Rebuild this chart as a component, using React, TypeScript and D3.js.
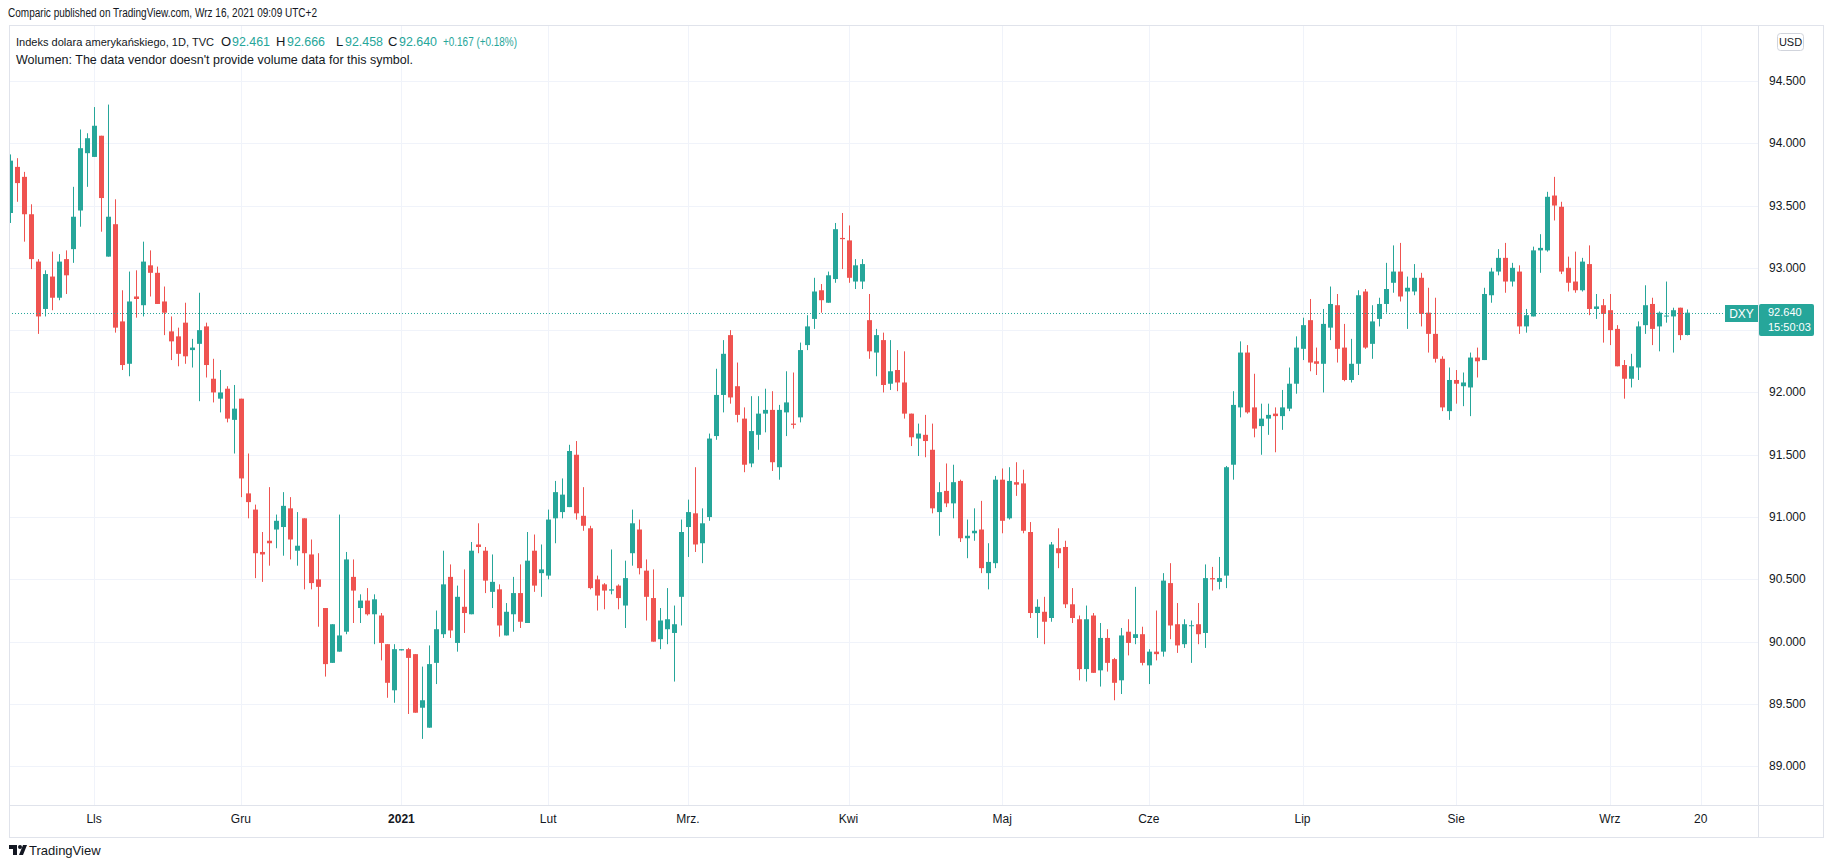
import React from 'react';
import * as d3 from 'd3';

// DXY daily candles, Oct 15 2020 .. Sep 16 2021 (one entry per weekday)
const opens = [
  93.44, 93.81, 93.73, 93.43, 93.05, 92.67, 92.93, 92.76, 93.07, 93.15,
  93.46, 93.92, 93.89, 94.06, 93.09, 93.35, 92.57, 92.23, 92.77, 92.7,
  93.02, 92.96, 92.73, 92.49, 92.45, 92.56, 92.34, 92.39, 92.53, 92.11,
  91.95, 92.03, 91.78, 91.95, 91.19, 91.06, 90.72, 90.81, 90.9, 90.92,
  91.07, 90.73, 90.99, 90.7, 90.5, 90.27, 89.83, 89.92, 90.08, 90.52,
  90.27, 90.33, 90.22, 90.21, 89.98, 89.61, 89.93, 89.94, 89.9, 89.47,
  89.31, 89.83, 90.06, 90.52, 89.99, 90.28, 90.22, 90.78, 90.73, 90.4,
  90.42, 90.05, 90.22, 90.39, 90.15, 90.73, 90.55, 90.53, 90.99, 91.04,
  91.08, 91.5, 91.01, 90.91, 90.5, 90.46, 90.41, 90.45, 90.29, 90.71,
  90.9, 90.57, 90.35, 90.02, 90.1, 90.07, 90.36, 90.92, 91.03, 90.79,
  91.0, 91.65, 91.98, 92.46, 92.05, 91.79, 91.43, 91.66, 91.83, 91.86,
  91.4, 91.84, 91.75, 91.8, 92.38, 92.59, 92.82, 92.72, 92.91, 93.24,
  93.22, 92.89, 92.89, 92.58, 92.32, 92.42, 92.07, 92.18, 92.08, 91.83,
  91.63, 91.66, 91.54, 91.04, 91.21, 91.11, 91.29, 90.83, 90.87, 90.9,
  90.55, 90.63, 91.3, 90.99, 91.28, 91.27, 90.88, 90.23, 90.24, 90.19,
  90.75, 90.76, 90.3, 90.18, 89.78, 90.21, 89.77, 90.03, 89.86, 89.69,
  90.08, 90.03, 90.06, 89.81, 89.92, 89.92, 90.47, 90.14, 89.98, 90.127,
  90.14, 90.07, 90.51, 90.48, 90.53, 91.42, 91.88, 92.32, 91.88, 91.73,
  91.79, 91.83, 91.81, 91.87, 92.07, 92.35, 92.58, 92.25, 92.23, 92.52,
  92.7, 92.36, 92.1, 92.23, 92.81, 92.39, 92.59, 92.71, 92.88, 92.97,
  92.81, 92.81, 92.92, 92.64, 92.47, 92.27, 91.85, 92.1, 92.05, 92.04,
  92.28, 92.26, 92.78, 92.97, 93.08, 92.89, 92.97, 92.53, 92.61, 93.14,
  93.14, 93.58, 93.49, 93.0, 92.89, 92.82, 93.03, 92.67, 92.7, 92.66,
  92.51, 92.22, 92.11, 92.2, 92.54, 92.71, 92.53, 92.612, 92.61, 92.68,
  92.461,
];
const highs = [
  93.91, 93.88, 93.77, 93.51, 93.07, 92.98, 93.13, 93.11, 93.14, 93.65,
  94.11, 94.08, 94.29, 94.06, 94.31, 93.55, 92.82, 92.97, 92.98, 93.21,
  93.14, 93.01, 92.85, 92.61, 92.52, 92.72, 92.43, 92.8, 92.56, 92.27,
  92.18, 92.05, 92.06, 91.95, 91.51, 91.1, 90.88, 91.24, 91.02, 91.2,
  91.16, 91.04, 90.99, 90.82, 90.71, 90.27, 90.14, 91.02, 90.72, 90.66,
  90.38, 90.43, 90.38, 90.23, 89.98, 89.98, 89.94, 89.95, 89.9, 89.8,
  89.97, 90.25, 90.73, 90.62, 90.45, 90.58, 90.8, 90.95, 90.76, 90.7,
  90.46, 90.31, 90.52, 90.62, 90.88, 90.86, 90.78, 91.06, 91.29, 91.31,
  91.58, 91.61, 91.24, 90.93, 90.53, 90.47, 90.74, 90.46, 90.65, 91.06,
  90.98, 90.66, 90.58, 90.27, 90.43, 90.29, 90.98, 91.14, 91.4, 91.07,
  91.67, 92.19, 92.42, 92.5, 92.24, 91.88, 91.97, 91.97, 92.03, 92.01,
  91.9, 92.17, 92.16, 92.4, 92.62, 92.92, 92.87, 92.97, 93.36, 93.44,
  93.34, 93.07, 93.07, 92.79, 92.51, 92.48, 92.42, 92.34, 92.33, 91.83,
  91.75, 91.82, 91.75, 91.28, 91.43, 91.42, 91.3, 90.98, 91.07, 91.13,
  90.79, 91.33, 91.39, 91.4, 91.44, 91.38, 90.96, 90.34, 90.36, 90.8,
  90.91, 90.81, 90.43, 90.21, 90.29, 90.23, 90.15, 90.1, 89.87, 90.11,
  90.18, 90.44, 90.12, 89.94, 90.25, 90.55, 90.63, 90.31, 90.18, 90.17,
  90.31, 90.62, 90.6, 90.68, 91.41, 92.01, 92.41, 92.38, 92.15, 91.91,
  91.91, 91.88, 92.02, 92.2, 92.45, 92.6, 92.75, 92.36, 92.67, 92.85,
  92.79, 92.55, 92.43, 92.82, 92.83, 92.7, 92.76, 93.04, 93.18, 93.2,
  92.93, 93.03, 92.96, 92.84, 92.76, 92.29, 92.2, 92.18, 92.16, 92.32,
  92.36, 92.84, 93.0, 93.15, 93.2, 93.04, 93.02, 92.67, 93.17, 93.27,
  93.61, 93.73, 93.53, 93.09, 93.13, 93.08, 93.18, 92.79, 92.75, 92.79,
  92.54, 92.26, 92.31, 92.57, 92.86, 92.76, 92.65, 92.89, 92.68, 92.68,
  92.666,
];
const lows = [
  93.36, 93.53, 93.21, 92.99, 92.47, 92.61, 92.66, 92.74, 92.79, 93.04,
  93.33, 93.65, 93.89, 93.29, 93.09, 92.48, 92.18, 92.13, 92.6, 92.61,
  92.77, 92.71, 92.46, 92.26, 92.21, 92.23, 92.2, 91.93, 92.12, 91.92,
  91.84, 91.76, 91.51, 91.16, 90.99, 90.51, 90.48, 90.61, 90.75, 90.69,
  90.66, 90.61, 90.42, 90.42, 90.12, 89.72, 89.83, 89.92, 90.06, 90.15,
  90.15, 90.21, 89.98, 89.85, 89.55, 89.51, 89.93, 89.42, 89.43, 89.22,
  89.31, 89.66, 90.03, 90.03, 89.92, 90.07, 90.22, 90.71, 90.39, 90.27,
  90.04, 90.05, 90.08, 90.11, 90.15, 90.4, 90.36, 90.5, 90.79, 90.99,
  91.08, 90.98, 90.89, 90.42, 90.25, 90.26, 90.38, 90.26, 90.11, 90.61,
  90.54, 90.17, 90.0, 89.94, 89.98, 89.68, 90.13, 90.68, 90.72, 90.63,
  90.97, 91.62, 91.84, 91.91, 91.76, 91.36, 91.4, 91.54, 91.68, 91.37,
  91.3, 91.65, 91.71, 91.76, 92.34, 92.51, 92.64, 92.72, 92.88, 92.99,
  92.88, 92.83, 92.83, 92.27, 92.13, 92.0, 92.02, 92.01, 91.79, 91.57,
  91.49, 91.48, 91.03, 90.85, 91.08, 90.99, 90.8, 90.67, 90.81, 90.55,
  90.42, 90.59, 90.87, 90.98, 91.17, 90.87, 90.19, 90.03, 89.98, 90.16,
  90.59, 90.27, 90.15, 89.69, 89.68, 89.75, 89.64, 89.76, 89.53, 89.58,
  89.89, 89.98, 89.81, 89.66, 89.85, 89.88, 90.02, 89.91, 89.95, 89.83,
  89.98, 89.95, 90.41, 90.42, 90.43, 91.3, 91.8, 91.83, 91.64, 91.5,
  91.66, 91.52, 91.7, 91.85, 91.99, 92.26, 92.17, 92.14, 92.0, 92.42,
  92.24, 92.09, 92.08, 92.14, 92.35, 92.27, 92.53, 92.64, 92.8, 92.73,
  92.51, 92.78, 92.53, 92.32, 92.24, 91.85, 91.78, 91.91, 91.89, 91.81,
  92.12, 92.26, 92.72, 92.94, 92.8, 92.85, 92.47, 92.48, 92.61, 92.96,
  93.13, 93.38, 92.95, 92.81, 92.8, 92.81, 92.62, 92.59, 92.4, 92.38,
  92.21, 91.95, 92.04, 92.1, 92.47, 92.38, 92.33, 92.56, 92.32, 92.42,
  92.458,
];
const closes = [
  93.86, 93.68, 93.43, 93.07, 92.61, 92.95, 92.76, 93.05, 92.94, 93.41,
  93.96, 94.04, 94.14, 93.56, 93.41, 92.52, 92.22, 92.73, 92.75, 93.05,
  92.96, 92.71, 92.64, 92.41, 92.31, 92.29, 92.36, 92.5, 92.22, 92.0,
  92.0, 91.79, 91.87, 91.31, 91.12, 90.71, 90.7, 90.79, 90.97, 91.09,
  90.82, 90.77, 90.71, 90.47, 90.44, 89.82, 90.14, 90.05, 90.66, 90.41,
  90.33, 90.22, 90.34, 89.99, 89.67, 89.94, 89.94, 89.87, 89.43, 89.53,
  89.82, 90.1, 90.46, 90.09, 90.36, 90.23, 90.73, 90.76, 90.49, 90.48,
  90.13, 90.24, 90.39, 90.16, 90.65, 90.45, 90.58, 90.98, 91.2, 91.18,
  91.53, 91.03, 90.93, 90.43, 90.37, 90.41, 90.42, 90.35, 90.51, 90.95,
  90.59, 90.36, 90.0, 90.17, 90.18, 90.14, 90.88, 91.04, 90.78, 90.95,
  91.63, 91.98, 92.31, 91.96, 91.82, 91.42, 91.69, 91.83, 91.86, 91.44,
  91.86, 91.92, 91.74, 92.34, 92.53, 92.81, 92.74, 92.94, 93.31, 93.23,
  92.92, 93.02, 93.03, 92.33, 92.46, 92.06, 92.17, 92.08, 91.83, 91.64,
  91.67, 91.61, 91.07, 91.2, 91.11, 91.28, 90.83, 90.85, 90.89, 90.59,
  90.64, 91.3, 90.97, 91.29, 91.26, 90.89, 90.23, 90.28, 90.16, 90.78,
  90.71, 90.3, 90.19, 89.78, 90.18, 89.75, 90.03, 89.83, 89.67, 90.05,
  89.99, 90.06, 89.83, 89.92, 89.9, 90.49, 90.13, 89.97, 90.14, 90.132,
  90.06, 90.51, 90.5, 90.51, 91.4, 91.9, 92.32, 91.84, 91.71, 91.79,
  91.82, 91.81, 91.88, 92.07, 92.36, 92.54, 92.24, 92.23, 92.55, 92.71,
  92.35, 92.1, 92.23, 92.78, 92.36, 92.57, 92.71, 92.83, 92.97, 92.77,
  92.84, 92.92, 92.63, 92.47, 92.27, 91.88, 92.1, 92.07, 92.08, 92.28,
  92.25, 92.79, 92.97, 93.08, 92.89, 93.0, 92.53, 92.62, 93.14, 93.16,
  93.57, 93.5, 92.97, 92.88, 92.82, 93.05, 92.67, 92.69, 92.63, 92.5,
  92.21, 92.11, 92.21, 92.53, 92.7, 92.51, 92.64, 92.617, 92.66, 92.46,
  92.64,
];

// time axis labels: candle index -> text
const timeTickIdx = [12, 33, 56, 77, 97, 120, 142, 163, 185, 207, 229, 242];
const timeTickText = ['Lls', 'Gru', '2021', 'Lut', 'Mrz.', 'Kwi', 'Maj', 'Cze', 'Lip', 'Sie', 'Wrz', '20'];
const priceTicks = [89.0, 89.5, 90.0, 90.5, 91.0, 91.5, 92.0, 92.5, 93.0, 93.5, 94.0, 94.5];
const lastPrice = 92.64;

// legend: OHLC of the last bar
const legendKeys = ['O', 'H', 'L', 'C'];
const legendVals = ['92.461', '92.666', '92.458', '92.640'];
const legendChange = '+0.167 (+0.18%)';

const UP = '#26a69a';
const DOWN = '#ef5350';
const GRID = '#f0f3fa';
const BORDER = '#e0e3eb';
const TEXT = '#131722';
const FONT = '"Liberation Sans", Arial, sans-serif';

const App = () => {
  const W = 1834;
  const H = 868;
  const paneLeft = 9;
  const paneTop = 25;
  const axisX = 1758;
  const axisY = 805;
  const paneRight = 1823;
  const paneBottom = 837;

  const x = d3.scaleLinear().domain([0, 240]).range([10.3, 1686.7]);
  const y = d3.scaleLinear().domain([89, 94.5]).range([766.3, 80.9]);

  const candles = opens.map((o, i) => ({
    i,
    o,
    h: highs[i],
    l: lows[i],
    c: closes[i],
  }));

  const yLast = Math.round(y(lastPrice)) + 0.5;
  // tick labels hidden under the last-price badge are not drawn (as in TradingView)
  const visibleTicks = priceTicks.filter((p) => Math.abs(y(p) - (yLast + 6)) > 24);

  // legend item positions (px), key then value
  const keyX = [221, 276, 336, 388];
  const valX = [232, 287, 345, 399];

  return (
    <svg
      width={W}
      height={H}
      style={{ position: 'absolute', left: 0, top: 0, display: 'block', background: '#fff' }}
      fontFamily={FONT}
    >
      <defs>
        <clipPath id="plot">
          <rect x={paneLeft + 1} y={paneTop + 1} width={axisX - paneLeft - 1} height={axisY - paneTop - 1} />
        </clipPath>
      </defs>

      <text x={8} y={17} fontSize={12} fill={TEXT} textLength={309} lengthAdjust="spacingAndGlyphs">
        Comparic published on TradingView.com, Wrz 16, 2021 09:09 UTC+2
      </text>

      {/* grid */}
      {priceTicks.map((p) => (
        <line key={'h' + p} x1={paneLeft} x2={axisX} y1={Math.round(y(p)) + 0.5} y2={Math.round(y(p)) + 0.5} stroke={GRID} />
      ))}
      {timeTickIdx.map((t) => (
        <line key={'v' + t} x1={Math.round(x(t)) + 0.5} x2={Math.round(x(t)) + 0.5} y1={paneTop} y2={axisY} stroke={GRID} />
      ))}

      {/* candles */}
      <g clipPath="url(#plot)">
        {candles.map((d) => {
          const cx = Math.round(x(d.i));
          const up = d.c >= d.o;
          const col = up ? UP : DOWN;
          const top = y(Math.max(d.o, d.c));
          const bot = y(Math.min(d.o, d.c));
          return (
            <g key={d.i}>
              <rect x={cx} y={y(d.h)} width={1} height={Math.max(1, y(d.l) - y(d.h))} fill={col} />
              <rect x={cx - 2} y={top} width={5} height={Math.max(1, bot - top)} fill={col} />
            </g>
          );
        })}
        <line x1={paneLeft} x2={axisX} y1={yLast} y2={yLast} stroke={UP} strokeWidth={1} strokeDasharray="1 2" />
      </g>

      {/* legend, one text element with positioned spans */}
      <text y={46} fontSize={11} fill={TEXT}>
        <tspan x={16} textLength={198} lengthAdjust="spacingAndGlyphs">
          Indeks dolara amerykańskiego, 1D, TVC
        </tspan>
        {legendKeys.map((k, n) => (
          <React.Fragment key={k}>
            <tspan x={keyX[n]} fontSize={13}>{k}</tspan>
            <tspan x={valX[n]} fontSize={13} fill={UP} textLength={38} lengthAdjust="spacingAndGlyphs">
              {legendVals[n]}
            </tspan>
          </React.Fragment>
        ))}
        <tspan x={443} fontSize={13} fill={UP} textLength={74} lengthAdjust="spacingAndGlyphs">
          {legendChange}
        </tspan>
      </text>
      <text x={16} y={64} fontSize={13} fill={TEXT} textLength={397} lengthAdjust="spacingAndGlyphs">
        Wolumen: The data vendor doesn't provide volume data for this symbol.
      </text>

      {/* frame */}
      <rect x={paneLeft + 0.5} y={paneTop + 0.5} width={paneRight - paneLeft} height={paneBottom - paneTop} fill="none" stroke={BORDER} />
      <line x1={axisX + 0.5} x2={axisX + 0.5} y1={paneTop} y2={paneBottom} stroke={BORDER} />
      <line x1={paneLeft} x2={paneRight} y1={axisY + 0.5} y2={axisY + 0.5} stroke={BORDER} />

      {/* price axis */}
      {visibleTicks.map((p) => (
        <text key={'t' + p} x={1769} y={y(p) + 4} fontSize={12} fill={TEXT}>
          {d3.format('.3f')(p)}
        </text>
      ))}
      <rect x={1777.5} y={33.5} width={26} height={17} rx={3} fill="#fff" stroke="#d1d4dc" />
      <text x={1790.5} y={46} fontSize={11} fill={TEXT} textAnchor="middle">USD</text>

      {/* last price badges */}
      <rect x={1725} y={yLast - 8.5} width={33} height={17} fill={UP} />
      <text x={1741.5} y={yLast + 4} fontSize={12} fill="#fff" textAnchor="middle">DXY</text>
      <rect x={axisX + 1} y={yLast - 9.5} width={55} height={32} rx={2} fill={UP} />
      <text fontSize={11} fill="#fff">
        <tspan x={1768} y={yLast + 2}>{d3.format('.3f')(lastPrice)}</tspan>
        <tspan x={1768} y={yLast + 17}>15:50:03</tspan>
      </text>

      {/* time axis */}
      {timeTickIdx.map((t, k) => (
        <text
          key={'x' + t}
          x={x(t)}
          y={823}
          fontSize={12}
          fill={TEXT}
          textAnchor="middle"
          fontWeight={timeTickText[k] === '2021' ? 'bold' : 'normal'}
        >
          {timeTickText[k]}
        </text>
      ))}

      {/* footer logo */}
      <g fill={TEXT}>
        <path d="M9 845h8v10h-4v-6h-4z" />
        <circle cx={20} cy={847} r={2} />
        <path d="M19 855l4-10h4l-4 10z" />
      </g>
      <text x={29} y={855} fontSize={13} fill={TEXT}>TradingView</text>
    </svg>
  );
};

export default App;
